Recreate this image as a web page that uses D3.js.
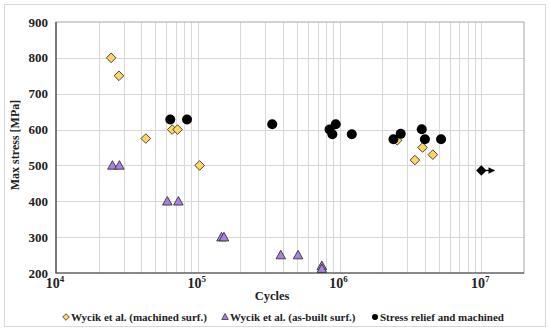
<!DOCTYPE html>
<html>
<head>
<meta charset="utf-8">
<script src="https://cdn.jsdelivr.net/npm/d3@7"></script>
<style>
  body { margin: 0; background: #fff; }
  text { font-family: "Liberation Serif", "Times New Roman", serif; font-weight: bold; fill: #222; }
</style>
</head>
<body>
<svg width="550" height="331"></svg>
<script>
// data (cycles, max stress MPa)
var machinedCycles = [2.45e4, 2.78e4, 4.3e4, 6.6e4, 7.2e4, 1.03e5, 2.55e6, 3.4e6, 3.85e6, 4.55e6];
var machinedStress = [800, 750, 575, 600, 600, 500, 570, 515, 550, 530];

var asBuiltCycles = [2.5e4, 2.8e4, 6.1e4, 7.3e4, 1.47e5, 1.53e5, 3.85e5, 5.1e5, 7.5e5, 7.5e5];
var asBuiltStress = [500, 500, 400, 400, 300, 300, 250, 250, 220, 212];

var reliefCycles = [6.4e4, 8.4e4, 3.35e5, 8.5e5, 9.4e5, 8.9e5, 1.22e6, 2.4e6, 2.7e6, 3.8e6, 4.0e6, 5.2e6];
var reliefStress = [628, 628, 615, 600, 615, 587, 587, 573, 588, 601, 573, 573];

var runoutCycles = [1e7];
var runoutStress = [486];

var yTicks = [200, 300, 400, 500, 600, 700, 800, 900];
var xDecades = [4, 5, 6, 7];
var legendLabels = ["Wycik et al. (machined surf.)", "Wycik et al. (as-built surf.)", "Stress relief and machined"];

var svg = d3.select("svg");
var margin = { left: 56, right: 26, top: 22, bottom: 58 };
var width = 550, height = 331;

var x = d3.scaleLog().domain([1e4, 2e7]).range([margin.left, width - margin.right]);
var y = d3.scaleLinear().domain([200, 900]).range([height - margin.bottom, margin.top]);

// outer frame
svg.append("rect")
  .attr("x", 4.5).attr("y", 4.5).attr("width", 541).attr("height", 322)
  .attr("fill", "none").attr("stroke", "#d9d9d9");

// gridlines
var minor = [];
for (var e = 4; e < 8; e++) {
  for (var m = 1; m < 10; m++) {
    var v = m * Math.pow(10, e);
    if (v > 1e4 && v < 2e7) minor.push(v);
  }
}
svg.append("g").selectAll("line").data(minor).enter().append("line")
  .attr("x1", d => Math.round(x(d)) + 0.5).attr("x2", d => Math.round(x(d)) + 0.5)
  .attr("y1", y(900)).attr("y2", y(200))
  .attr("stroke", "#d9d9d9");
svg.append("g").selectAll("line").data(yTicks.slice(1, -1)).enter().append("line")
  .attr("x1", x(1e4)).attr("x2", x(2e7))
  .attr("y1", d => Math.round(y(d)) + 0.5).attr("y2", d => Math.round(y(d)) + 0.5)
  .attr("stroke", "#d9d9d9");

// plot border
svg.append("rect")
  .attr("x", x(1e4)).attr("y", y(900)).attr("width", x(2e7) - x(1e4)).attr("height", y(200) - y(900))
  .attr("fill", "none").attr("stroke", "#a6a6a6");
svg.append("path")
  .attr("d", "M" + x(1e4) + "," + y(900) + "V" + y(200) + "H" + x(2e7))
  .attr("fill", "none").attr("stroke", "#404040").attr("stroke-width", 1.2);

// y tick labels
svg.append("g").selectAll("text").data(yTicks).enter().append("text")
  .attr("x", 48).attr("y", d => y(d) + 4.5)
  .attr("text-anchor", "end").attr("font-size", 13)
  .text(d => d);

// x tick labels 10^n
var xl = svg.append("g").selectAll("text").data(xDecades).enter().append("text")
  .attr("x", d => x(Math.pow(10, d)) - 1).attr("y", 288)
  .attr("text-anchor", "middle").attr("font-size", 14);
xl.append("tspan").text("10");
xl.append("tspan").attr("dy", -6).attr("font-size", 9).text(d => d);

// axis titles
svg.append("text").attr("x", 272).attr("y", 300).attr("text-anchor", "middle")
  .attr("font-size", 12.5).text("Cycles");
svg.append("text").attr("transform", "translate(19,145) rotate(-90)")
  .attr("text-anchor", "middle").attr("font-size", 12).text("Max stress [MPa]");

// square turned 45 degrees, and a triangle centred on its point
function diamondPath(r) { return "M0," + (-r) + "L" + r + ",0L0," + r + "L" + (-r) + ",0Z"; }
function trianglePath(w, h) { return "M0," + (-h / 2 - 0.5) + "L" + (w / 2) + "," + (h / 2 - 0.5) + "L" + (-w / 2) + "," + (h / 2 - 0.5) + "Z"; }

function series(cx, cy) { return cx.map((c, i) => ({ c: c, s: cy[i] })); }

svg.append("g").selectAll("path").data(series(machinedCycles, machinedStress)).enter().append("path")
  .attr("d", diamondPath(4.8))
  .attr("transform", d => "translate(" + x(d.c) + "," + y(d.s) + ")")
  .attr("fill", "#ffd75e").attr("stroke", "#333").attr("stroke-width", 0.9);

svg.append("g").selectAll("path").data(series(asBuiltCycles, asBuiltStress)).enter().append("path")
  .attr("d", trianglePath(9.5, 8.5))
  .attr("transform", d => "translate(" + x(d.c) + "," + y(d.s) + ")")
  .attr("fill", "#aa80e6").attr("stroke", "#333").attr("stroke-width", 0.9);

svg.append("g").selectAll("circle").data(series(reliefCycles, reliefStress)).enter().append("circle")
  .attr("cx", d => x(d.c)).attr("cy", d => y(d.s)).attr("r", 5)
  .attr("fill", "#000");

// run-out point with arrow
var ro = series(runoutCycles, runoutStress);
svg.append("defs").append("marker").attr("id", "arr")
  .attr("viewBox", "0 0 10 10").attr("refX", 9).attr("refY", 5)
  .attr("markerWidth", 5).attr("markerHeight", 5).attr("orient", "auto")
  .append("path").attr("d", "M0,0L10,5L0,10z").attr("fill", "#000");
svg.append("g").selectAll("line").data(ro).enter().append("line")
  .attr("x1", d => x(d.c)).attr("x2", d => x(d.c) + 13)
  .attr("y1", d => y(d.s)).attr("y2", d => y(d.s))
  .attr("stroke", "#000").attr("stroke-width", 1.3).attr("marker-end", "url(#arr)");
svg.append("g").selectAll("path").data(ro).enter().append("path")
  .attr("d", diamondPath(5.2))
  .attr("transform", d => "translate(" + x(d.c) + "," + y(d.s) + ")")
  .attr("fill", "#000");

// legend
var legX = [66, 225, 375];
var leg = svg.append("g").selectAll("g").data(legendLabels).enter().append("g")
  .attr("transform", (d, i) => "translate(" + legX[i] + ",317)");
leg.each(function(d, i) {
  var g = d3.select(this);
  if (i === 0) g.append("path").attr("d", diamondPath(3.3))
    .attr("fill", "#ffd75e").attr("stroke", "#333").attr("stroke-width", 0.8);
  if (i === 1) g.append("path").attr("d", trianglePath(6.5, 6))
    .attr("fill", "#aa80e6").attr("stroke", "#333").attr("stroke-width", 0.8);
  if (i === 2) g.append("circle").attr("r", 3).attr("fill", "#000");
  g.append("text").attr("x", 5).attr("y", 4).attr("font-size", 11).text(d);
});
</script>
</body>
</html>
